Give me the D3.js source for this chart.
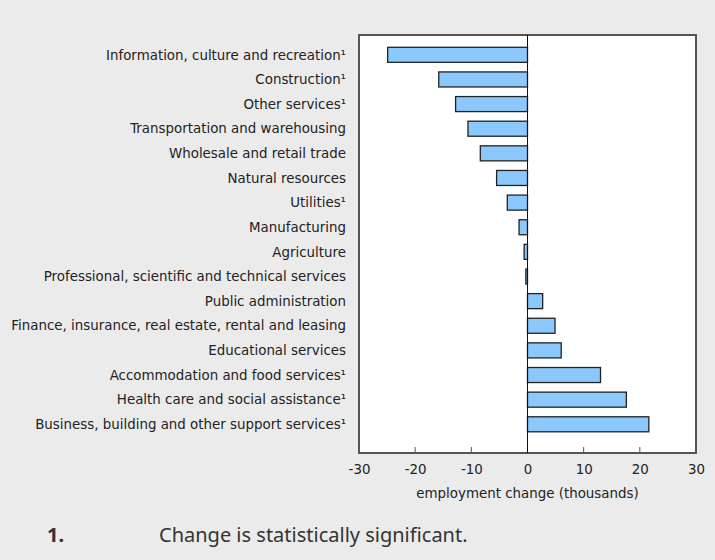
<!DOCTYPE html>
<html>
<head>
<meta charset="utf-8">
<script src="https://cdn.jsdelivr.net/npm/d3@7"></script>
<style>
body { margin: 0; background: #ebebeb; }
svg { display: block; }
</style>
</head>
<body>
<div id="viz"></div>
<script>
(function() {

var categories = [
    "Information, culture and recreation\u00b9",
    "Construction\u00b9",
    "Other services\u00b9",
    "Transportation and warehousing",
    "Wholesale and retail trade",
    "Natural resources",
    "Utilities\u00b9",
    "Manufacturing",
    "Agriculture",
    "Professional, scientific and technical services",
    "Public administration",
    "Finance, insurance, real estate, rental and leasing",
    "Educational services",
    "Accommodation and food services\u00b9",
    "Health care and social assistance\u00b9",
    "Business, building and other support services\u00b9"
];
var changes = [-24.9, -15.8, -12.8, -10.6, -8.4, -5.5, -3.6, -1.5, -0.6, -0.3, 2.7, 4.9, 6.0, 13.0, 17.6, 21.6];
var xTicks = [-30, -20, -10, 0, 10, 20, 30];
var xTitle = "employment change (thousands)";
var noteNum = "1.";
var noteText = "Change is statistically significant.";

var W = 715, H = 560;
var left = 359, right = 696, top = 35, bottom = 453;
var font = "'DejaVu Sans', Verdana, sans-serif";
var fs = "13.4px";

var svg = d3.select("#viz").append("svg")
    .attr("width", W)
    .attr("height", H);

var x = d3.scaleLinear().domain([-30, 30]).range([left, right]);
var y = d3.scaleBand().domain(categories)
    .range([42.5, 436.6])
    .paddingInner(0.39)
    .paddingOuter(0.195);

// plot background
svg.append("rect")
    .attr("x", left).attr("y", top)
    .attr("width", right - left).attr("height", bottom - top)
    .style("fill", "white")
    .style("stroke", "#555")
    .style("stroke-width", 2);

// ticks (inward from bottom)
svg.selectAll("line.tick")
    .data(xTicks.slice(1, -1))
    .enter().append("line")
    .attr("class", "tick")
    .attr("x1", function(d){return x(d);})
    .attr("x2", function(d){return x(d);})
    .attr("y1", bottom - 6)
    .attr("y2", bottom)
    .style("stroke", "#555")
    .style("stroke-width", 1);

var xAxis = d3.axisBottom(x).tickValues(xTicks).tickSize(0)
    .tickFormat(function(d){return String(d);});
var gx = svg.append("g")
    .attr("transform", "translate(0," + (bottom + 8) + ")")
    .call(xAxis);
gx.select(".domain").remove();
gx.selectAll("text")
    .style("font-family", font)
    .style("font-size", fs)
    .style("fill", "#222");

svg.append("text")
    .attr("x", x(0))
    .attr("y", 498)
    .attr("text-anchor", "middle")
    .style("font-family", font)
    .style("font-size", fs)
    .style("fill", "#222")
    .text(xTitle);

// bars
svg.selectAll("rect.bar")
    .data(changes)
    .enter().append("rect")
    .attr("class", "bar")
    .attr("x", function(d){return x(Math.min(0, d));})
    .attr("y", function(d, i){return y(categories[i]);})
    .attr("width", function(d){return Math.abs(x(d) - x(0));})
    .attr("height", y.bandwidth())
    .style("fill", "#8ac8fd")
    .style("stroke", "#222")
    .style("stroke-width", 1.3);

// zero line
svg.append("line")
    .attr("x1", x(0)).attr("x2", x(0))
    .attr("y1", top).attr("y2", bottom)
    .style("stroke", "#111")
    .style("stroke-width", 1);

// category labels
svg.selectAll("text.cat")
    .data(categories)
    .enter().append("text")
    .attr("class", "cat")
    .attr("x", 346)
    .attr("y", function(d){return y(d) + y.bandwidth() / 2;})
    .attr("dy", "0.35em")
    .attr("text-anchor", "end")
    .style("font-family", font)
    .style("font-size", fs)
    .style("fill", "#222")
    .text(function(d){return d;});

// footnote
svg.append("text")
    .attr("x", 47).attr("y", 542)
    .style("font-family", "'Noto Sans', 'Open Sans', sans-serif")
    .style("font-size", "20px")
    .style("font-weight", "bold")
    .style("fill", "#333")
    .text(noteNum);
svg.append("text")
    .attr("x", 159).attr("y", 542)
    .style("font-family", "'Noto Sans', 'Open Sans', sans-serif")
    .style("font-size", "20px")
    .style("fill", "#333")
    .text(noteText);

})();
</script>
</body>
</html>
